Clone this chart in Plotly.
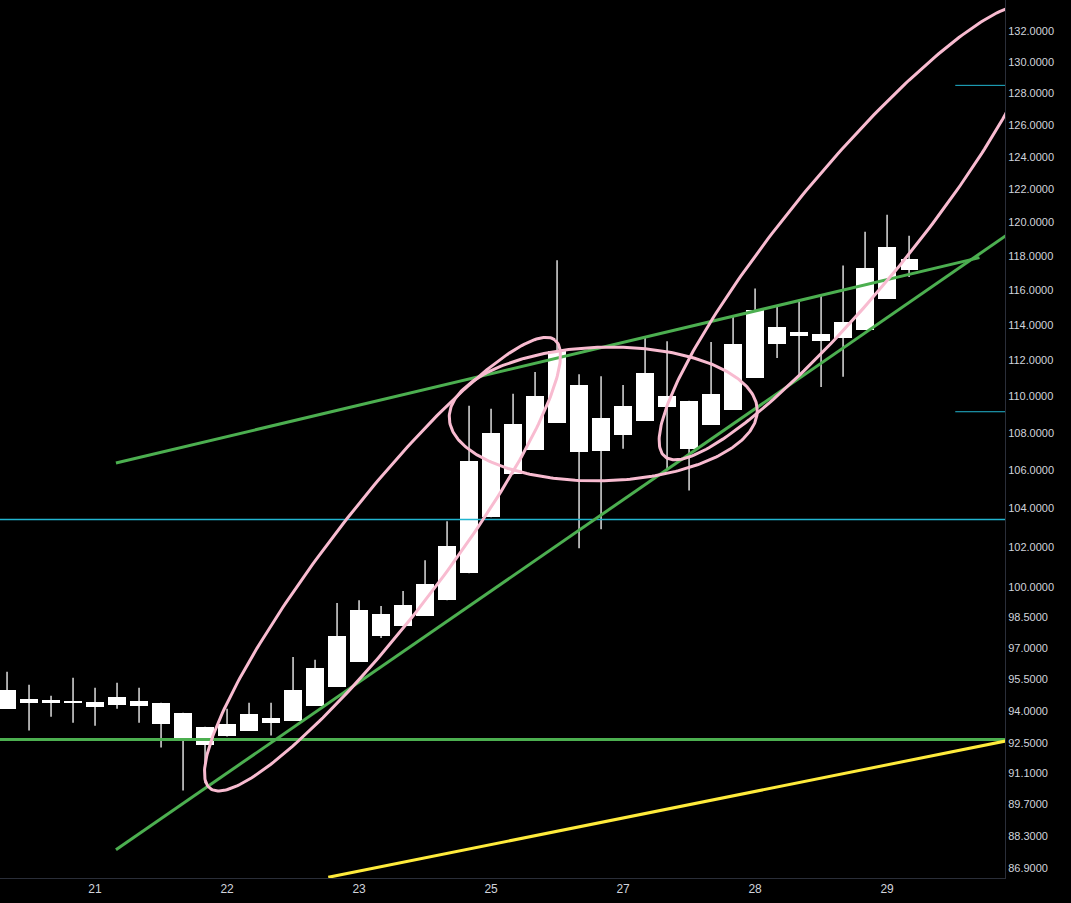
import numpy as np
import plotly.graph_objects as go

opens = [94.10,94.39,94.39,94.39,94.20,94.29,94.25,93.40,92.76,92.39,92.81,93.08,93.45,93.54,94.25,95.14,96.33,97.59,98.08,98.57,99.35,100.70,103.55,105.79,107.11,108.56,107.00,107.06,107.91,108.67,109.43,107.16,108.45,109.26,111.03,112.92,113.37,113.08,113.26,113.71,115.49,117.16]
closes = [95.00,94.57,94.53,94.48,94.43,94.67,94.48,94.39,93.92,93.26,93.40,93.87,93.68,95.00,96.05,97.59,98.86,98.66,99.11,100.15,102.06,106.48,108.02,108.50,110.03,112.52,110.63,108.84,109.49,111.29,110.03,109.76,110.14,112.92,114.85,113.88,113.60,113.48,114.16,117.27,118.50,117.84]
highs = [95.86,95.24,94.72,95.57,95.10,95.33,95.10,94.39,93.92,93.26,94.10,94.39,94.39,96.57,96.43,99.21,99.35,99.06,99.80,101.35,103.34,109.49,109.32,110.14,111.35,117.74,111.23,111.12,110.63,113.26,113.08,109.76,113.03,114.45,116.09,115.07,115.35,115.70,117.44,119.43,120.45,119.19]
lows = [94.10,93.08,93.73,93.45,93.31,94.10,93.45,92.30,90.34,90.66,92.81,93.08,92.85,93.54,94.25,95.14,96.33,97.49,98.08,98.57,99.35,100.70,103.55,105.79,107.11,108.56,101.96,102.93,107.16,108.67,106.10,104.95,108.45,109.26,111.03,112.13,111.18,110.52,111.08,113.71,115.49,116.76]
idx = list(range(len(opens)))

day_pos = [4, 10, 16, 22, 28, 34, 40]
day_labels = ["21", "22", "23", "25", "27", "28", "29"]
price_ticks = [86.9, 88.3, 89.7, 91.1, 92.5, 94, 95.5, 97, 98.5, 100, 102, 104, 106, 108, 110, 112, 114, 116, 118, 120, 122, 124, 126, 128, 130, 132, 134]

X0, X1 = -0.32, 45.36
Y0, Y1 = 86.47, 134.1

fig = go.Figure()
wx, wy = [], []
for i, h, l in zip(idx, highs, lows):
    wx += [i, i, None]; wy += [l, h, None]
fig.add_trace(go.Scatter(x=wx, y=wy, mode="lines", line=dict(color="white", width=1.3),
                         showlegend=False, hoverinfo="skip"))
lo = [min(o, c) for o, c in zip(opens, closes)]
hi = [max(o, c) for o, c in zip(opens, closes)]
fig.add_trace(go.Bar(x=idx, base=lo, y=[h - l for h, l in zip(hi, lo)], width=0.78,
                     marker=dict(color="white", line=dict(width=0)), showlegend=False, hoverinfo="skip"))

def seg(p, q, color, w):
    fig.add_trace(go.Scatter(x=[p[0], q[0]], y=[p[1], q[1]], mode="lines",
        line=dict(color=color, width=w), showlegend=False, hoverinfo="skip"))

seg((X0, 103.44), (X1, 103.44), "#22b5d0", 1.5)
seg((43.1, 128.5), (X1, 128.5), "#22b5d0", 1)
seg((43.1, 109.16), (X1, 109.16), "#22b5d0", 1)
seg((X0, 92.67), (X1, 92.67), "#4caf50", 3)
seg((4.95, 106.4), (44.2, 117.9), "#4caf50", 3)
seg((4.95, 87.7), (45.4, 119.2), "#4caf50", 3)
seg((14.6, 86.5), (45.4, 92.6), "#ffeb3b", 3)

SX, SY = 22.0, 2008.0
ellipses = [((9.23, 90.43), (24.9, 113.15), 56),
            ((20.1, 108.82), (34.1, 109.26), 67),
            ((29.9, 106.74), (46.7, 133.6), 60)]
t = np.linspace(0, 2*np.pi, 300)
for (a, b, minor) in ellipses:
    ax, ay = a[0]*SX, np.log(a[1])*SY
    bx, by = b[0]*SX, np.log(b[1])*SY
    cx, cy = (ax+bx)/2, (ay+by)/2
    dx, dy = bx-ax, by-ay
    L = np.hypot(dx, dy); ux, uy = dx/L, dy/L
    major = L/2
    px = cx + major*np.cos(t)*ux - minor*np.sin(t)*uy
    py = cy + major*np.cos(t)*uy + minor*np.sin(t)*ux
    fig.add_trace(go.Scatter(x=px/SX, y=np.exp(py/SY), mode="lines",
        line=dict(color="#f8bbd0", width=3), showlegend=False, hoverinfo="skip"))

fig.update_layout(width=1071, height=903, paper_bgcolor="black", plot_bgcolor="black",
    margin=dict(l=0, r=66, t=0, b=25), bargap=0,
    xaxis=dict(range=[X0, X1], tickvals=day_pos, ticktext=day_labels, showgrid=False,
               zeroline=False, ticks="",
               tickfont=dict(color="#d1d4dc", size=12, family="Liberation Sans"),
               showline=True, linecolor="#2a2e39"),
    yaxis=dict(type="log", range=[np.log10(Y0), np.log10(Y1)], side="right",
               tickvals=price_ticks, ticktext=[f"{v:.4f}" for v in price_ticks],
               showgrid=False, zeroline=False, ticks="",
               tickfont=dict(color="#d1d4dc", size=11, family="Liberation Sans"),
               showline=True, linecolor="#2a2e39"),
    hovermode=False)
fig.write_html("out.html", config={"displayModeBar": False},
               post_script="document.body.style.margin='0';document.body.style.background='black';")
